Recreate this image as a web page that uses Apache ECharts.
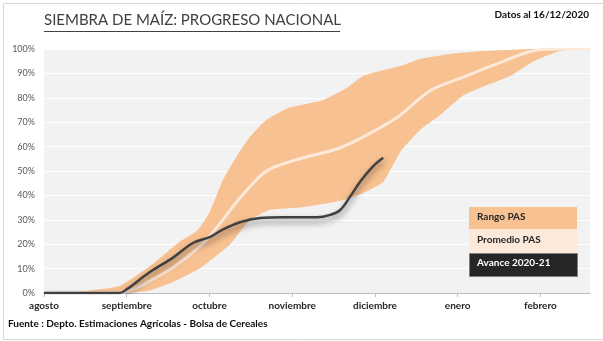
<!DOCTYPE html>
<html>
<head>
<meta charset="utf-8">
<script src="https://cdn.jsdelivr.net/npm/echarts@6/dist/echarts.min.js"></script>
<style>html,body{margin:0;padding:0;background:#fff}#c{width:603px;height:341px}</style>
</head>
<body>
<div id="c"></div>
<script>
// x = months since 1 August (0 = agosto, 1 = septiembre, ...), y = % sembrado
var monthLabels = ['agosto','septiembre','octubre','noviembre','diciembre','enero','febrero'];
var yTicks = [0,10,20,30,40,50,60,70,80,90,100];

var rangoMax = [[0,0],[0.43,0.5],[0.67,1.5],[0.92,3],[1.28,11],[1.64,21],[1.85,25.5],[2.0,33],[2.16,46],[2.33,56],[2.49,64],[2.69,71],[2.97,76],[3.37,79],[3.66,84],[3.86,89],[4.06,91],[4.31,93],[4.55,96],[4.91,98],[5.24,99],[5.88,100],[6.6,100]];
var rangoMin = [[0,0],[0.92,0],[1.16,0.5],[1.28,1],[1.56,4.5],[1.88,10],[2.25,20],[2.49,30],[2.73,34],[3.09,35],[3.46,37],[3.61,38],[3.86,41],[4.1,45.5],[4.31,58],[4.55,67],[4.79,73],[5.07,81],[5.27,84],[5.64,89],[5.92,95],[6.21,99],[6.42,100],[6.6,100]];
var promedio = [[0,0],[0.8,0],[1.04,1],[1.28,5],[1.56,10.5],[1.88,19],[2.07,26],[2.37,39],[2.69,50],[3.09,55],[3.54,59],[3.86,64],[4.27,72],[4.67,83],[5.07,88.5],[5.48,94],[5.88,99],[6.24,100],[6.6,100]];
var avance = [[0,0],[0.915,0],[1.0,1.5],[1.28,8.6],[1.56,14.5],[1.8,20.5],[2.01,23],[2.16,26],[2.37,29],[2.61,30.7],[2.89,31],[3.3,31],[3.46,32],[3.58,34],[3.7,39.5],[3.83,46],[3.98,52],[4.1,55.4]];
var avanceLabel = '55,4 %';

var chart = echarts.init(document.getElementById('c'), null, {renderer:'canvas'});
var FONT = 'Lato';

var avanceData = avance.map(function(p, i){
  if (i === avance.length - 1) {
    return {value:p, label:{show:true, formatter:avanceLabel, position:'top', offset:[9,-1], fontFamily:FONT, fontWeight:'bold', fontSize:12, color:'#262626'}};
  }
  return p;
});

var option = {
  backgroundColor:'#ffffff',
  animation:false,
  grid:{left:44, right:13, top:49, bottom:48, show:true, backgroundColor:'#f2f2f2', borderWidth:0},
  xAxis:{
    type:'value', min:0, max:6.6, interval:1,
    axisLine:{show:true, onZero:false, lineStyle:{color:'#bfbfbf', width:1}},
    axisTick:{show:true, customValues:[0,1,2,3,4,5,6], length:4, lineStyle:{color:'#bfbfbf'}},
    axisLabel:{customValues:[0,1,2,3,4,5,6], formatter:function(v){return monthLabels[Math.round(v)] || '';}, fontFamily:FONT, fontWeight:'bold', fontSize:10, color:'#262626', margin:8},
    splitLine:{show:false}
  },
  yAxis:{
    type:'value', min:0, max:100, interval:10,
    axisLine:{show:false}, axisTick:{show:false},
    axisLabel:{formatter:'{value}%', fontFamily:FONT, fontSize:9, color:'#595959', margin:9},
    splitLine:{show:true, lineStyle:{color:'#ffffff', width:1}}
  },
  series:[
    {
      type:'custom', name:'Rango PAS', z:2,
      data:[[0,0]],
      encode:{x:0, y:1},
      renderItem:function(params, api){
        var pts = rangoMax.map(function(p){return api.coord(p);});
        var low = rangoMin.slice().reverse().map(function(p){return api.coord(p);});
        return {type:'polygon', shape:{points:pts.concat(low), smooth:0.15}, style:{fill:'#f8c191', stroke:null}};
      }
    },
    {
      type:'line', name:'Promedio PAS', z:3, data:promedio, smooth:0.3, showSymbol:false, symbol:'none',
      lineStyle:{color:'#fde9d9', width:3}
    },
    {
      type:'line', name:'Avance 2020-21', z:4, data:avanceData, smooth:0.35, showSymbol:false, symbol:'none',
      lineStyle:{color:'#404040', width:2.5, shadowColor:'rgba(0,0,0,0.55)', shadowBlur:6, shadowOffsetY:4}
    }
  ],
  graphic:[
    {type:'rect', left:1, top:1, shape:{width:600, height:336}, style:{fill:null, stroke:'#d9d9d9', lineWidth:1}, z:-1},
    {type:'text', left:44, top:13, style:{text:'SIEMBRA DE MAÍZ: PROGRESO NACIONAL', font:'15px Lato', fill:'#404040'}},
    {type:'line', shape:{x1:44, y1:31.5, x2:340, y2:31.5}, style:{stroke:'#404040', lineWidth:1}},
    {type:'text', right:14, top:10, style:{text:'Datos al 16/12/2020', font:'bold 10px Lato', fill:'#0d0d0d'}},
    {type:'text', left:8, top:319, style:{text:'Fuente : Depto. Estimaciones Agrícolas - Bolsa de Cereales', font:'bold 10px Lato', fill:'#0d0d0d'}},
    {type:'rect', left:469, top:207, shape:{width:108, height:22}, style:{fill:'#f8c191'}, z:10},
    {type:'text', left:477, top:212, style:{text:'Rango PAS', font:'bold 10px Lato', fill:'#262626'}, z:11},
    {type:'rect', left:469, top:229, shape:{width:108, height:24}, style:{fill:'#fde9d9'}, z:10},
    {type:'text', left:477, top:235, style:{text:'Promedio PAS', font:'bold 10px Lato', fill:'#262626'}, z:11},
    {type:'rect', left:469, top:253, shape:{width:108, height:23}, style:{fill:'#262626', stroke:'#7f7f7f', lineWidth:1}, z:10},
    {type:'text', left:477, top:258, style:{text:'Avance 2020-21', font:'bold 10px Lato', fill:'#ffffff'}, z:11}
  ]
};
chart.setOption(option);
</script>
</body>
</html>
